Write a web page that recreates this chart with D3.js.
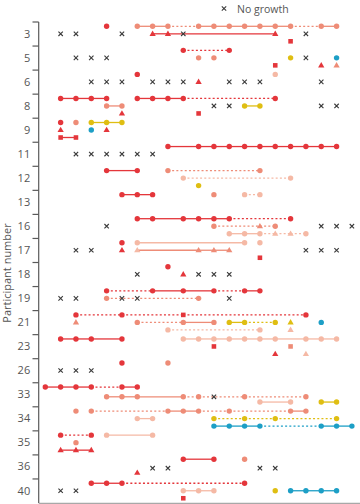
<!DOCTYPE html>
<html><head><meta charset="utf-8">
<script src="https://cdn.jsdelivr.net/npm/d3@7"></script>
<style>body{margin:0;background:#fff}svg{display:block}</style>
</head><body><svg id="c" width="360" height="504"></svg>
<script>
// ---- data ----
const participants = ["3","5","6","8","9","11","12","13","16","17","18","19","21","23","26","33","34","35","36","40"];
const dayDomain = [0, 20];
const colours = {R:"#e4363b", S:"#ee8c77", P:"#f5b9a5", Y:"#dfbe12", C:"#1d9fc6"};
const legendLabels = ["No growth"];
const axisTitle = "Participant number";
// tracks: [participant, lane, days, colour(s), shape(s) o=circle t=triangle q=square, links s=solid d=dotted -=none]
const tracks = [
 ["3",0,[4],"R","o",""],
 ["3",0,[6,7,8,10,11,12,13,14,15,16,18,19],"S","o","ssdssssssds"],
 ["3",1,[7,8,15],"R","t","ss"],
 ["3",2,[16],"R","q",""],
 ["5",0,[9,12],"R","o","d"],
 ["5",1,[10,11],"S","o","-"],
 ["5",1,[16],"Y","o",""],
 ["5",1,[19],"C","o",""],
 ["5",2,[15],"R","q",""],
 ["5",2,[18,19],"RS","t","-"],
 ["6",0,[6],"R","o",""],
 ["6",0,[15],"P","o",""],
 ["6",1,[10],"R","t",""],
 ["8",0,[1,2,3,4],"R","o","sss"],
 ["8",0,[6,7,8,9,15],"R","o","sssd"],
 ["8",1,[4,5],"S","o","s"],
 ["8",1,[13,14],"Y","o","s"],
 ["8",2,[5],"R","t",""],
 ["8",2,[10],"R","q",""],
 ["9",0,[1,2],"RS","o","-"],
 ["9",0,[3,4,5],"Y","o","ss"],
 ["9",1,[1,3,4],"RCR","tot","--"],
 ["9",2,[1,2],"R","q","s"],
 ["11",0,[8,10,11,12,13,14,15,16,17,18,19],"R","o","ssssssssss"],
 ["12",0,[4,6],"R","o","s"],
 ["12",0,[8,14],"S","o","d"],
 ["12",1,[9,16],"P","o","d"],
 ["12",2,[10],"Y","o",""],
 ["13",0,[5,6,7],"R","o","ss"],
 ["13",0,[11],"S","o",""],
 ["13",0,[13,14],"P","o","d"],
 ["16",0,[6,7,9,10,11,12,16],"R","o","sssssd"],
 ["16",1,[11,14,15],"S","oto","dd"],
 ["16",2,[12,13,14,15,16,17],"P","oootto","ssddd"],
 ["17",0,[5],"R","o",""],
 ["17",0,[6,13],"P","o","s"],
 ["17",0,[14],"P","o",""],
 ["17",1,[5],"R","t",""],
 ["17",1,[6,10,11,12],"PSSS","t","sss"],
 ["17",2,[14],"R","q",""],
 ["18",0,[8],"R","o",""],
 ["18",1,[9],"R","t",""],
 ["19",0,[4,7,9,11,13,14],"R","o","dssds"],
 ["19",1,[4,10],"S","o","d"],
 ["21",0,[2,5,9,17],"R","ooqo","ddd"],
 ["21",1,[2],"S","t",""],
 ["21",1,[6,9,11],"S","o","ds"],
 ["21",1,[12,13,15],"Y","o","sd"],
 ["21",1,[16],"Y","t",""],
 ["21",1,[18],"C","o",""],
 ["21",2,[8,14],"P","o","d"],
 ["21",2,[16],"P","t",""],
 ["23",0,[1,2,3,5],"R","o","sss"],
 ["23",0,[9,10,11,12,13,14,15,17,18,19],"P","o","sssssssss"],
 ["23",1,[11],"R","q",""],
 ["23",1,[16],"S","q",""],
 ["23",2,[15],"R","t",""],
 ["23",2,[17],"P","t",""],
 ["26",0,[5],"R","o",""],
 ["26",0,[8],"S","o",""],
 ["33",0,[0,1,2,3,5,6],"R","o","sssds"],
 ["33",1.3,[4,5,6,9,10,13,17],"S","o","sssddd"],
 ["33",2,[14,16],"P","o","s"],
 ["33",2,[18,19],"Y","o","s"],
 ["34",0,[2,3,8,9,10,12,16,17],"S","o","-dssdds"],
 ["34",1,[6,7],"P","o","s"],
 ["34",1,[11,13,15,19],"Y","o","ddd"],
 ["34",2,[11,12,13,14,18,19,20],"C","o","sssdss"],
 ["35",0,[1,3],"R","o","d"],
 ["35",0,[4,7],"P","o","s"],
 ["35",1,[2],"S","o",""],
 ["35",2,[1,2,3],"R","t","ss"],
 ["36",0,[9,11],"R","o","s"],
 ["36",0,[13],"S","o",""],
 ["36",1.8,[6],"R","t",""],
 ["40",0,[3,4,5,13],"R","o","ssd"],
 ["40",1,[9,10,11],"P","o","ss"],
 ["40",1,[15],"Y","o",""],
 ["40",1,[16,17,18,19],"C","o","sss"],
 ["40",2,[9],"R","q",""]
];
// no growth: [participant, lane, days]
const noGrowth = [
 ["3",1,[1,2,5,9,17]],
 ["5",1,[2,3,4,17]],
 ["6",1,[3,4,5,7,8,9,12,13,14,18]],
 ["8",1,[11,12,18,19]],
 ["11",1,[2,3,4,5,6,7]],
 ["16",1,[4,18,19,20]],
 ["17",1,[2,3,17,18,19]],
 ["18",1,[6,10,11,12]],
 ["19",1,[1,2,5,6,12]],
 ["26",1,[1,2,3]],
 ["33",1.3,[11]],
 ["36",1.2,[7,8,14,15]],
 ["40",1,[1,2]]
];

// ---- chart ----
const svg = d3.select("#c");
const FONT = "'Open Sans', 'Noto Sans', sans-serif";
const x = d3.scaleLinear().domain(dayDomain).range([45.3, 351.9]);
const y = d3.scaleBand().domain(participants).range([22, 503]);
const lane = d3.scaleLinear().domain([0, 2]).range([4.3, 19.3]);
const yPos = (p, l) => y(p) + lane(l);
const axisX = 38.7;

// bottom frame line
svg.append("line").attr("x1", axisX).attr("x2", 360).attr("y1", 503.5).attr("y2", 503.5)
  .attr("stroke", "#a8a8a8").attr("stroke-width", 1.5);

// y axis
svg.append("line").attr("x1", axisX).attr("x2", axisX).attr("y1", y.range()[0]).attr("y2", y.range()[1])
  .attr("stroke", "#5a5a5a").attr("stroke-width", 1.2);
svg.append("g").selectAll("line").data(participants).join("line")
  .attr("x1", axisX - 6.2).attr("x2", axisX).attr("y1", d => y(d)).attr("y2", d => y(d))
  .attr("stroke", "#5a5a5a").attr("stroke-width", 1.2);
const ax = svg.append("g").attr("transform", `translate(${axisX},0)`)
  .call(d3.axisLeft(y).tickSize(0).tickPadding(8.5));
ax.select(".domain").remove();
ax.selectAll("text").attr("font-family", FONT).attr("font-size", 11).attr("fill", "#555");

svg.append("text").attr("transform", "translate(11,273) rotate(-90)")
  .attr("text-anchor", "middle").attr("font-family", FONT).attr("font-size", 11)
  .attr("fill", "#555").text(axisTitle);

// build points and links
const pts = [], links = [];
tracks.forEach(([p, l, days, cols, shapes, lk]) => {
  days.forEach((d, i) => {
    const c = cols.length > 1 ? cols[i] : cols;
    const s = shapes.length > 1 ? shapes[i] : shapes;
    pts.push({p, l, d, c, s});
    if (i > 0) {
      const st = lk[i - 1];
      if (st === "s" || st === "d") links.push({p, l, d0: days[i - 1], d1: d, c: cols.length > 1 ? cols[i] : cols, st});
    }
  });
});

svg.append("g").selectAll("line").data(links).join("line")
  .attr("x1", d => x(d.d0)).attr("x2", d => x(d.d1))
  .attr("y1", d => yPos(d.p, d.l)).attr("y2", d => yPos(d.p, d.l))
  .attr("stroke", d => colours[d.c]).attr("stroke-width", 1.3)
  .attr("stroke-dasharray", d => d.st === "d" ? "2,2.2" : null);

const tri = d3.symbol(d3.symbolTriangle, 17)();
const sq = d3.symbol(d3.symbolSquare, 21)();
const mk = svg.append("g");
mk.selectAll("circle").data(pts.filter(d => d.s === "o")).join("circle")
  .attr("cx", d => x(d.d)).attr("cy", d => yPos(d.p, d.l)).attr("r", 2.7)
  .attr("fill", d => colours[d.c]);
mk.selectAll("path").data(pts.filter(d => d.s !== "o")).join("path")
  .attr("d", d => d.s === "t" ? tri : sq)
  .attr("transform", d => `translate(${x(d.d)},${yPos(d.p, d.l) + (d.s === "t" ? 0.3 : 0)})`)
  .attr("fill", d => colours[d.c]);

// no growth crosses
const crossPath = "M-2.2,-2.2L2.2,2.2M-2.2,2.2L2.2,-2.2";
const ng = [];
noGrowth.forEach(([p, l, days]) => days.forEach(d => ng.push({p, l, d})));
svg.append("g").selectAll("path").data(ng).join("path")
  .attr("d", crossPath)
  .attr("transform", d => `translate(${x(d.d)},${yPos(d.p, d.l)})`)
  .attr("stroke", "#3a3a3a").attr("stroke-width", 1.1).attr("fill", "none");

// legend
const lg = svg.append("g").attr("transform", "translate(224,8.5)");
lg.append("path").attr("d", crossPath).attr("stroke", "#3a3a3a").attr("stroke-width", 1.1);
lg.append("text").attr("x", 13).attr("y", 4).attr("font-family", FONT).attr("font-size", 10.5)
  .attr("fill", "#555").text(legendLabels[0]);
</script></body></html>
